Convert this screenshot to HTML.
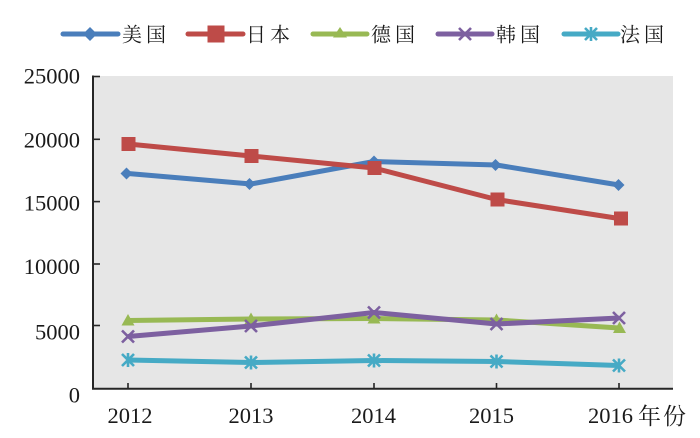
<!DOCTYPE html>
<html>
<head>
<meta charset="utf-8">
<style>
  html, body { margin: 0; padding: 0; background: #ffffff; }
  body { width: 700px; height: 438px; overflow: hidden; }
  svg { display: block; }
  .num { font-family: "Liberation Serif", "Noto Serif CJK SC", serif; font-size: 22.5px; fill: #1a1a1a; }
  .cjk { font-family: "Liberation Serif", "Noto Serif CJK SC", serif; fill: #1a1a1a; }
</style>
</head>
<body>
<svg width="700" height="438" viewBox="0 0 700 438" xmlns="http://www.w3.org/2000/svg">
  <!-- plot background -->
  <rect x="93" y="76" width="580" height="312.5" fill="#e6e6e6"/>

  <!-- axes -->
  <line x1="93" y1="75.5" x2="93" y2="389.5" stroke="#262626" stroke-width="2"/>
  <line x1="92" y1="388.8" x2="673" y2="388.8" stroke="#262626" stroke-width="2"/>
  <!-- y ticks (inward) -->
  <g stroke="#262626" stroke-width="1.6">
    <line x1="93" y1="76.5" x2="100" y2="76.5"/>
    <line x1="93" y1="139.3" x2="100" y2="139.3"/>
    <line x1="93" y1="201.6" x2="100" y2="201.6"/>
    <line x1="93" y1="264" x2="100" y2="264"/>
    <line x1="93" y1="325.5" x2="100" y2="325.5"/>
  </g>
  <!-- x ticks (inward) -->
  <g stroke="#262626" stroke-width="1.6">
    <line x1="128" y1="388" x2="128" y2="383"/>
    <line x1="251" y1="388" x2="251" y2="383"/>
    <line x1="374" y1="388" x2="374" y2="383"/>
    <line x1="496.5" y1="388" x2="496.5" y2="383"/>
    <line x1="619" y1="388" x2="619" y2="383"/>
  </g>

  <!-- y labels -->
  <g class="num" text-anchor="end">
    <text x="80" y="83.5">25000</text>
    <text x="80" y="147.5">20000</text>
    <text x="80" y="210.5">15000</text>
    <text x="80" y="274">10000</text>
    <text x="80" y="339.5">5000</text>
    <text x="80" y="402.5">0</text>
  </g>

  <!-- x labels -->
  <g class="num" text-anchor="middle">
    <text x="130" y="423">2012</text>
    <text x="251" y="423">2013</text>
    <text x="373.5" y="423">2014</text>
    <text x="491.5" y="423">2015</text>
  </g>
  <text class="num" x="588" y="423">2016</text>
  <text class="cjk" x="638" y="424" font-size="23" letter-spacing="2">年份</text>

  <!-- Series: USA (blue) -->
  <polyline points="128,173.5 251,184 374,161.5 496.5,165 619,185" fill="none" stroke="#4a7ebb" stroke-width="5" stroke-linejoin="round"/>
  <g fill="#4a7ebb">
    <polygon points="128,167.5 134,173.5 128,179.5 122,173.5" transform="translate(-1.5,0)"/>
    <polygon points="251,178 257,184 251,190 245,184" transform="translate(-1.5,0)"/>
    <polygon points="374,155.5 380,161.5 374,167.5 368,161.5"/>
    <polygon points="496.5,159 502.5,165 496.5,171 490.5,165" transform="translate(-1,0)"/>
    <polygon points="619,179 625,185 619,191 613,185" transform="translate(-0.5,0)"/>
  </g>

  <!-- Series: Japan (red) -->
  <polyline points="128,144 251,156 374,168 496.5,199.5 619,218.5" fill="none" stroke="#be4b48" stroke-width="5" stroke-linejoin="round"/>
  <g fill="#be4b48">
    <rect x="121.5" y="137" width="14" height="14"/>
    <rect x="244.5" y="149" width="14" height="14"/>
    <rect x="367.5" y="161" width="14" height="14"/>
    <rect x="490.5" y="192.5" width="14" height="14"/>
    <rect x="614" y="211.5" width="14" height="14"/>
  </g>

  <!-- Series: Germany (green) -->
  <polyline points="128,320.5 251,319 374,318.5 496.5,320 619,328" fill="none" stroke="#98b954" stroke-width="5" stroke-linejoin="round"/>
  <g fill="#98b954">
    <polygon points="128,314 134.5,325.5 121.5,325.5"/>
    <polygon points="251,312.5 257.5,324 244.5,324"/>
    <polygon points="374,312 380.5,323.5 367.5,323.5"/>
    <polygon points="496.5,313.5 503,325 490,325"/>
    <polygon points="619.5,321.5 626,333 613,333"/>
  </g>

  <!-- Series: Korea (purple) -->
  <polyline points="128,336.5 251,326 374,312.5 496.5,324 619,318" fill="none" stroke="#7d60a0" stroke-width="5" stroke-linejoin="round"/>
  <g stroke="#7d60a0" stroke-width="2.6" fill="none">
    <path d="M122,330.5 L134,342.5 M134,330.5 L122,342.5"/>
    <path d="M245,320 L257,332 M257,320 L245,332"/>
    <path d="M368,306.5 L380,318.5 M380,306.5 L368,318.5"/>
    <path d="M490.5,318 L502.5,330 M502.5,318 L490.5,330"/>
    <path d="M613,312 L625,324 M625,312 L613,324"/>
  </g>

  <!-- Series: France (teal) -->
  <polyline points="128,360 251,362.5 374,360.5 496.5,361.5 619,365.5" fill="none" stroke="#46aac5" stroke-width="5" stroke-linejoin="round"/>
  <g stroke="#46aac5" stroke-width="2.6" fill="none">
    <path d="M122,354 L134,366 M134,354 L122,366 M128,353 L128,367"/>
    <path d="M245,356.5 L257,368.5 M257,356.5 L245,368.5 M251,355.5 L251,369.5"/>
    <path d="M368,354.5 L380,366.5 M380,354.5 L368,366.5 M374,353.5 L374,367.5"/>
    <path d="M490.5,355.5 L502.5,367.5 M502.5,355.5 L490.5,367.5 M496.5,354.5 L496.5,368.5"/>
    <path d="M613,359.5 L625,371.5 M625,359.5 L613,371.5 M619,358.5 L619,372.5"/>
  </g>

  <!-- Legend -->
  <g>
    <line x1="63" y1="34" x2="118" y2="34" stroke="#4a7ebb" stroke-width="5" stroke-linecap="round"/>
    <polygon points="90,27 97,34 90,41 83,34" fill="#4a7ebb"/>
    <text class="cjk" x="122" y="41.5" font-size="20" letter-spacing="4">美国</text>

    <line x1="188" y1="34" x2="243" y2="34" stroke="#be4b48" stroke-width="5" stroke-linecap="round"/>
    <rect x="207.5" y="25.5" width="17" height="17" fill="#be4b48"/>
    <text class="cjk" x="246" y="41.5" font-size="20" letter-spacing="4">日本</text>

    <line x1="313" y1="34" x2="367" y2="34" stroke="#98b954" stroke-width="5" stroke-linecap="round"/>
    <polygon points="340,27 347,37.5 333,37.5" fill="#98b954"/>
    <text class="cjk" x="371" y="41.5" font-size="20" letter-spacing="4">德国</text>

    <line x1="438" y1="34" x2="492" y2="34" stroke="#7d60a0" stroke-width="5" stroke-linecap="round"/>
    <path d="M459,28 L471,40 M471,28 L459,40" stroke="#7d60a0" stroke-width="2.6"/>
    <text class="cjk" x="496" y="41.5" font-size="20" letter-spacing="4">韩国</text>

    <line x1="564" y1="34" x2="618" y2="34" stroke="#46aac5" stroke-width="5" stroke-linecap="round"/>
    <path d="M585,28 L597,40 M597,28 L585,40 M591,27 L591,41" stroke="#46aac5" stroke-width="2.6"/>
    <text class="cjk" x="620" y="41.5" font-size="20" letter-spacing="4">法国</text>
  </g>
</svg>
</body>
</html>
